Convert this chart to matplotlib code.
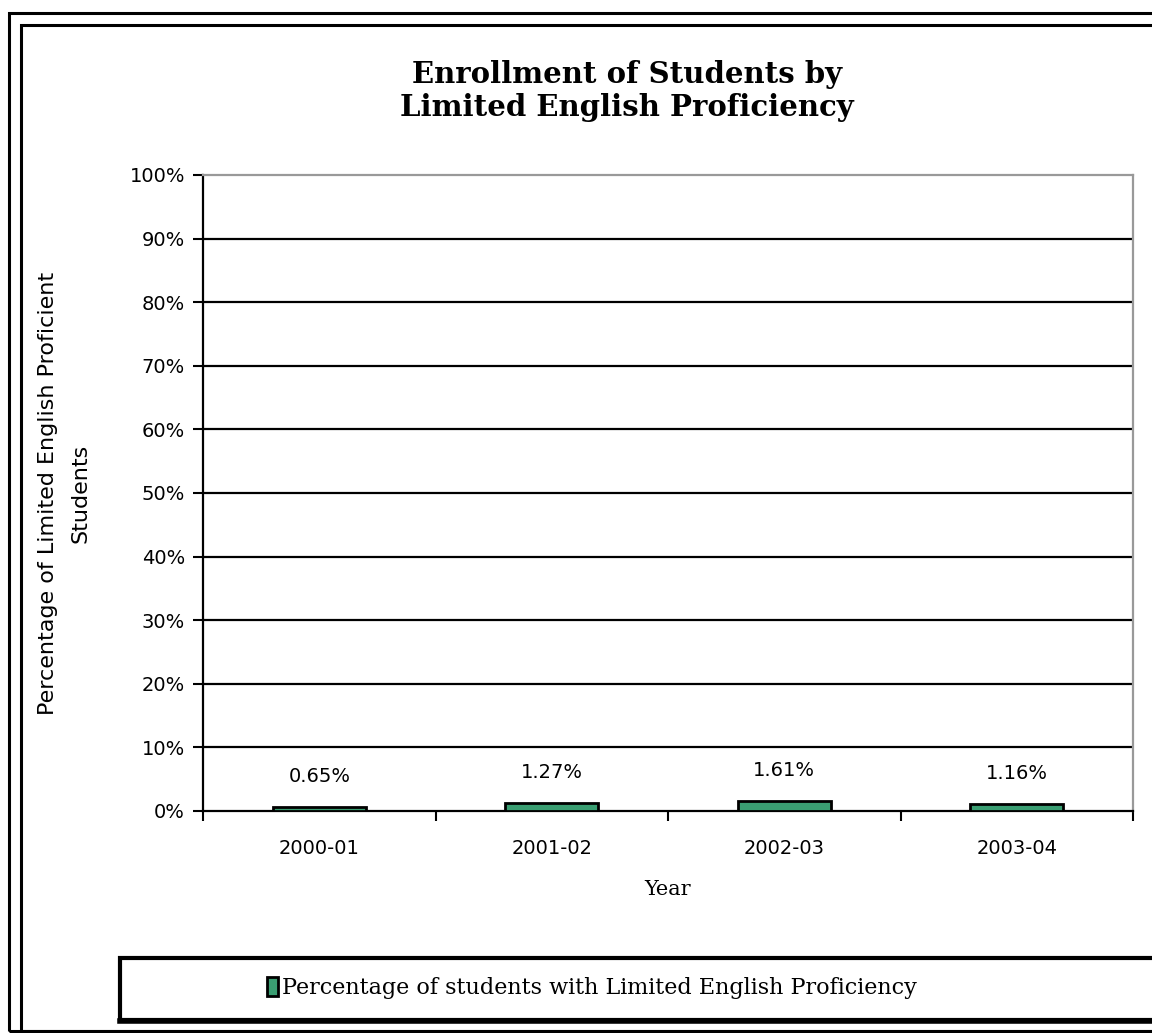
import matplotlib
matplotlib.use("Agg")
import matplotlib.pyplot as plt
from matplotlib.patches import Rectangle, Patch
from matplotlib.lines import Line2D

years = ["2000-01", "2001-02", "2002-03", "2003-04"]
lep_pct = [0.65, 1.27, 1.61, 1.16]
lep_labels = ["0.65%", "1.27%", "1.61%", "1.16%"]
y_ticks = [0, 10, 20, 30, 40, 50, 60, 70, 80, 90, 100]

W, H = 1152, 1033
fig = plt.figure(figsize=(W / 100, H / 100), dpi=100)
fig.patch.set_facecolor("white")

def fx(px):
    return px / W

def fy(py):
    return 1 - py / H

# outer and inner frames
fig.add_artist(Rectangle((fx(9), fy(1031)), fx(1200 - 9), fy(13) - fy(1031),
                         transform=fig.transFigure, fill=False, lw=2.2, ec="black"))
fig.add_artist(Rectangle((fx(21), fy(1031)), fx(1200 - 21), fy(25) - fy(1031),
                         transform=fig.transFigure, fill=False, lw=2.2, ec="black"))

ax = fig.add_axes([fx(203), fy(811), fx(1133) - fx(203), fy(175) - fy(811)])
green = "#3a9e72"
x = range(len(years))
bars = ax.bar(x, lep_pct, width=0.4, color=green, edgecolor="black", linewidth=2, zorder=3)

for xi, v, lab in zip(x, lep_pct, lep_labels):
    ax.annotate(lab, (xi, v), xytext=(0, 22), textcoords="offset points",
                ha="center", va="center", fontsize=14, family="DejaVu Sans")

ax.set_xlim(-0.5, 3.5)
ax.set_ylim(0, 100)
ax.set_yticks(y_ticks)
ax.set_yticklabels([f"{t}%" for t in y_ticks], fontsize=14, family="DejaVu Sans")
ax.set_xticks(list(x))
ax.set_xticklabels(years, fontsize=14, family="DejaVu Sans")
ax.set_xticks([-0.5, 0.5, 1.5, 2.5, 3.5], minor=True)
ax.tick_params(axis="x", which="major", length=0, pad=20)
ax.tick_params(axis="x", which="minor", length=7, width=1.5, direction="out")
ax.tick_params(axis="y", length=7, width=1.5, direction="out", pad=6)

for t in y_ticks[1:-1]:
    ax.axhline(t, color="black", lw=1.6, zorder=1)

ax.spines["left"].set_linewidth(1.6)
ax.spines["bottom"].set_linewidth(1.6)
ax.spines["top"].set_color("#999999")
ax.spines["right"].set_color("#999999")
ax.spines["top"].set_linewidth(1.6)
ax.spines["right"].set_linewidth(1.6)

ax.set_xlabel("Year", fontsize=15, family="DejaVu Serif", labelpad=16)
ax.set_ylabel("Percentage of Limited English Proficient\nStudents", fontsize=16,
              family="DejaVu Sans", labelpad=28, linespacing=1.8)

fig.text(fx(627), fy(91), "Enrollment of Students by\nLimited English Proficiency",
         ha="center", va="center", fontsize=21, fontweight="bold",
         family="DejaVu Serif", linespacing=1.2)

# legend box with shadow
fig.add_artist(Rectangle((fx(120), fy(1020)), fx(1200 - 120), fy(958) - fy(1020),
                         transform=fig.transFigure, fill=False, lw=3, ec="black"))
fig.add_artist(Line2D([fx(120), fx(1200)], [fy(1021), fy(1021)],
                      transform=fig.transFigure, lw=4, color="black"))
leg = fig.legend(handles=[Patch(facecolor=green, edgecolor="black", lw=2,
                                label="Percentage of students with Limited English Proficiency")],
                 loc="center", bbox_to_anchor=(fx(592), fy(988)), frameon=False,
                 prop={"family": "DejaVu Serif", "size": 16},
                 handlelength=0.5, handleheight=0.9, handletextpad=0.2)

fig.savefig("out.png", dpi=100)
